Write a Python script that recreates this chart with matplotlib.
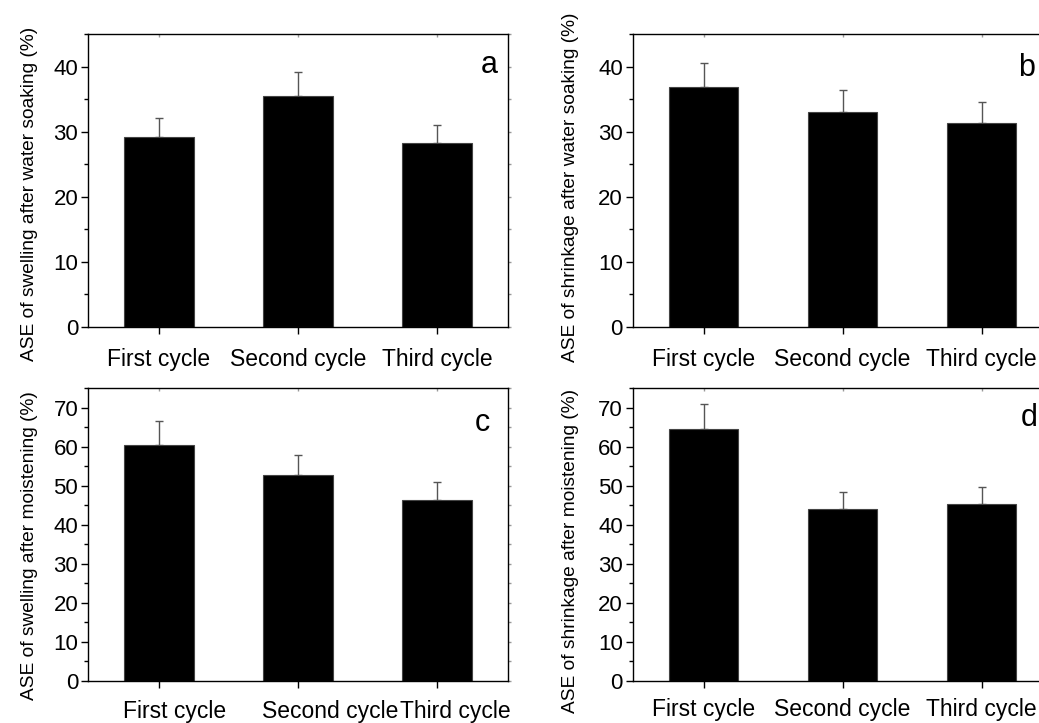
import matplotlib
matplotlib.use('Agg')
import matplotlib.pyplot as plt
from matplotlib.ticker import MultipleLocator, NullFormatter
import matplotlib.transforms as mtransforms

plt.rcParams['font.family'] = ['Liberation Sans', 'DejaVu Sans']

cycles = ['First cycle', 'Second cycle', 'Third cycle']

# ASE values (%) and upper error bars
swell_soak = [29.2, 35.5, 28.3]
swell_soak_err = [2.9, 3.6, 2.7]
shrink_soak = [36.9, 33.0, 31.4]
shrink_soak_err = [3.7, 3.4, 3.1]
swell_moist = [60.6, 52.8, 46.3]
swell_moist_err = [6.0, 5.1, 4.6]
shrink_moist = [64.7, 44.2, 45.3]
shrink_moist_err = [6.3, 4.3, 4.4]

panels = [
    # letter, values, errors, ylabel, ymax, axes rect, label pos, letter pos, xlabel pad
    ('a', swell_soak, swell_soak_err, 'ASE of swelling after water soaking (%)',
     45, [0.0847, 0.5477, 0.4042, 0.4053], (-0.12, 0.456), (0.955, 0.893), 10),
    ('b', shrink_soak, shrink_soak_err, 'ASE of shrinkage after water soaking (%)',
     45, [0.6089, 0.5477, 0.4042, 0.4053], (-0.128, 0.478), (0.938, 0.883), 10),
    ('c', swell_moist, swell_moist_err, 'ASE of swelling after moistening (%)',
     75, [0.0847, 0.0581, 0.4042, 0.4048], (-0.12, 0.462), (0.94, 0.880), 10),
    ('d', shrink_moist, shrink_moist_err, 'ASE of shrinkage after moistening (%)',
     75, [0.6089, 0.0581, 0.4042, 0.4048], (-0.128, 0.445), (0.945, 0.900), 7),
]

# panel c has its category labels nudged off the tick marks
c_label_shift = [0.11, 0.23, 0.13]

fig = plt.figure(figsize=(10.39, 7.23), dpi=100)

for letter, vals, errs, ylabel, ymax, rect, lpos, tpos, xpad in panels:
    ax = fig.add_axes(rect)
    x = list(range(len(cycles)))
    ax.bar(x, vals, width=0.5, color='black', edgecolor='#444444',
           linewidth=0.8, zorder=2)
    ax.errorbar(x, vals, yerr=[[0] * len(errs), errs], fmt='none',
                ecolor='#555555', elinewidth=1.0, capsize=3, capthick=1.0,
                zorder=1)
    ax.set_xlim(-0.51, 2.51)
    ax.set_ylim(0, ymax)
    ax.yaxis.set_major_locator(MultipleLocator(10))
    ax.yaxis.set_minor_locator(MultipleLocator(5))
    ax.set_xticks(x)
    ax.tick_params(axis='y', which='major', direction='out', length=5,
                   width=1, labelsize=16, pad=2)
    ax.tick_params(axis='y', which='minor', direction='out', length=3,
                   width=1)
    ax.tick_params(axis='x', which='major', direction='out', length=5,
                   width=1, labelsize=16.5, pad=xpad)
    for sp in ax.spines.values():
        sp.set_linewidth(1.0)

    # faint little ticks on the right and top spines
    ry = ax.secondary_yaxis('right')
    ry.yaxis.set_major_locator(MultipleLocator(5))
    ry.yaxis.set_major_formatter(NullFormatter())
    ry.tick_params(direction='out', length=2, width=1, color='#999999')
    ry.spines['right'].set_visible(False)
    tx = ax.secondary_xaxis('top')
    tx.set_xticks(x)
    tx.xaxis.set_major_formatter(NullFormatter())
    tx.tick_params(direction='in', length=2, width=1, color='#999999')
    tx.spines['top'].set_visible(False)

    if letter == 'c':
        ax.set_xticklabels([])
        trans = mtransforms.blended_transform_factory(ax.transData, ax.transAxes)
        for xi, lab, dx in zip(x, cycles, c_label_shift):
            ax.text(xi + dx, -0.105, lab, transform=trans, ha='center',
                    va='center', fontsize=16.5)
    else:
        ax.set_xticklabels(cycles)
    ax.set_ylabel(ylabel, fontsize=13.8)
    ax.yaxis.set_label_coords(*lpos)
    ax.text(tpos[0], tpos[1], letter, transform=ax.transAxes, fontsize=22,
            ha='center', va='center')

fig.savefig('out.png', dpi=100)
